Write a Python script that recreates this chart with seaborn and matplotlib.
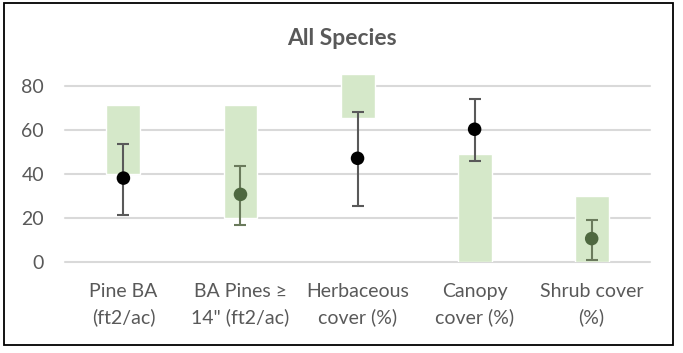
import matplotlib
matplotlib.use("Agg")
import matplotlib.pyplot as plt
import seaborn as sns
import pandas as pd
from matplotlib.patches import Rectangle

categories = ["Pine BA\n(ft2/ac)", "BA Pines \u2265\n14\" (ft2/ac)", "Herbaceous\ncover (%)",
              "Canopy\ncover (%)", "Shrub cover\n(%)"]
range_low = [40, 20, 65.5, 0, 0]
range_high = [71, 71, 85.3, 49, 30]
point_values = [38, 30.6, 47, 60.2, 10.5]
err_low = [21.4, 16.8, 25.5, 45.9, 0.8]
err_high = [53.5, 43.5, 68, 74, 19]
point_group = ["black", "green", "black", "black", "green"]
yticks = [0, 20, 40, 60, 80]

sns.set_theme(style="white")
plt.rcParams["font.family"] = ["Lato", "DejaVu Sans"]

TXT = "#595959"
fig = plt.figure(figsize=(6.83, 3.53), dpi=100)
ax = fig.add_axes([0.095, 0.2586, 0.857, 0.561])

df = pd.DataFrame({"cat": categories, "low": range_low, "high": range_high,
                   "val": point_values, "elo": err_low, "ehi": err_high,
                   "grp": point_group})
df["span"] = df["high"] - df["low"]

for y in yticks:
    ax.axhline(y, color="#d9d9d9", lw=1.5, zorder=0, clip_on=False)

sns.barplot(data=df, x="cat", y="span", bottom=df["low"], color="#d5e8c9",
            width=0.29, saturation=1, ax=ax, zorder=1)

pos = list(range(len(categories)))
ecolors = {"black": "#595959", "green": "#6a7a5c"}
for i, row in df.iterrows():
    ax.errorbar(pos[i], row["val"],
                yerr=[[row["val"] - row["elo"]], [row["ehi"] - row["val"]]],
                fmt="none", ecolor=ecolors[row["grp"]], elinewidth=1.5,
                capsize=4, capthick=1.5, zorder=2)

sns.scatterplot(data=df, x="cat", y="val", hue="grp",
                palette={"black": "#000000", "green": "#4e6840"},
                s=95, edgecolor="none", legend=False, ax=ax, zorder=3)

ax.set_xlim(-0.5, 4.5)
ax.set_ylim(0, 90)
ax.set_yticks(yticks)
ax.set_xlabel("")
ax.set_ylabel("")
for s in ax.spines.values():
    s.set_visible(False)
ax.tick_params(axis="both", length=0, labelsize=14, labelcolor=TXT)
ax.tick_params(axis="y", pad=15)
ax.tick_params(axis="x", pad=15)
for lab in ax.get_xticklabels():
    lab.set_linespacing(1.6)

fig.text(0.5, 0.891, "All Species", ha="center", va="center", fontsize=16.5,
         fontweight="bold", color=TXT)
fig.patches.append(Rectangle((0.0059, 0.0227), 0.9795, 0.969, transform=fig.transFigure,
                             fill=False, edgecolor="#000000", lw=1.3))

fig.savefig("out.png", dpi=100)
